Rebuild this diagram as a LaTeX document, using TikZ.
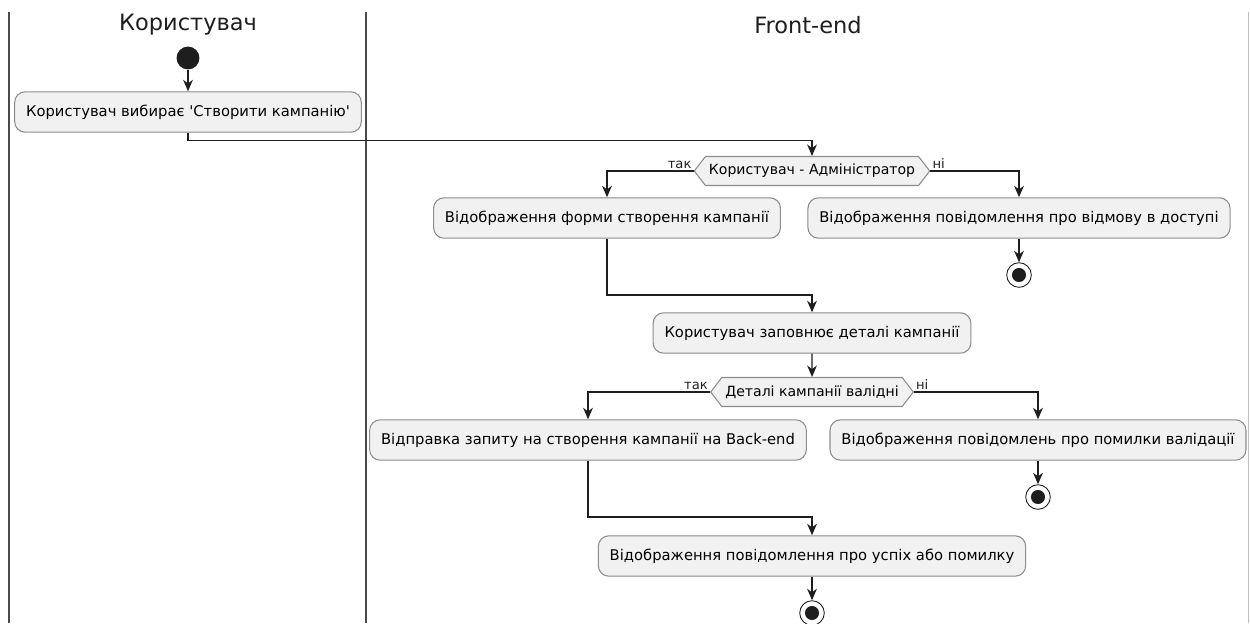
\documentclass[tikz,border=0pt]{standalone}
\usepackage{fontspec}
\newfontfamily\umlfont{DejaVu Sans}
\usetikzlibrary{arrows.meta,shapes.symbols}

\definecolor{boxfill}{HTML}{F1F1F1}
\definecolor{boxline}{HTML}{8C8C8C}
\definecolor{flowline}{HTML}{1E1E1E}
\definecolor{laneline}{HTML}{4A4A4A}

\tikzset{
  lanetitle/.style={font=\umlfont\fontsize{12.8}{15}\selectfont, text=flowline},
  action/.style={draw=boxline, fill=boxfill, line width=0.6pt, rounded corners=6pt,
    font=\umlfont\fontsize{8.4}{10}\selectfont, inner xsep=6.5pt, minimum height=23pt},
  choice/.style={draw=boxline, fill=boxfill, line width=0.6pt, signal, signal to=west and east,
    signal pointer angle=105, font=\umlfont\fontsize{8}{9.5}\selectfont, inner xsep=2pt, minimum height=16.5pt},
  startdot/.style={circle, fill=flowline, minimum size=13pt, inner sep=0pt},
  stopdot/.style={circle, draw=flowline, fill=white, line width=0.5pt, minimum size=14pt, inner sep=0pt,
    path picture={\fill[flowline] (path picture bounding box.center) circle (4pt);}},
  flow/.style={draw=flowline, line width=0.8pt, -{Stealth[length=6.5pt, width=5.5pt, inset=2pt]}},
  guard/.style={font=\umlfont\fontsize{7.5}{8.5}\selectfont, inner sep=1pt, text=flowline}
}

\begin{document}
\begin{tikzpicture}[x=0.02cm, y=-0.02cm]
    \useasboundingbox (0,0) rectangle (1250,623);

    % swimlanes
    \draw[laneline, line width=1.2pt] (9,12) -- (9,623);
    \draw[laneline, line width=1.2pt] (366,12) -- (366,623);
    \draw[gray!50, line width=0.5pt] (1248,12) -- (1248,623);
    \node[lanetitle] (laneUser) at (188,25) {Користувач};
    \node[lanetitle] (laneFront) at (808,25) {Front-end};

    % activities
    \node[startdot] (start) at (188,58) {};
    \node[action] (choose) at (188,112) {Користувач вибирає 'Створити кампанію'};
    \node[choice] (isAdmin) at (812,171) {Користувач - Адміністратор};
    \node[action] (showForm) at (607,218) {Відображення форми створення кампанії};
    \node[action] (showDenied) at (1019,218) {Відображення повідомлення про відмову в доступі};
    \node[stopdot] (stopDenied) at (1019,275) {};
    \node[action] (fillIn) at (812,333) {Користувач заповнює деталі кампанії};
    \node[choice] (isValid) at (812,392) {Деталі кампанії валідні};
    \node[action] (sendReq) at (588,440) {Відправка запиту на створення кампанії на Back-end};
    \node[action] (showErrors) at (1038,440) {Відображення повідомлень про помилки валідації};
    \node[stopdot] (stopErrors) at (1038,497) {};
    \node[action] (showResult) at (812,556) {Відображення повідомлення про успіх або помилку};
    \node[stopdot] (stopEnd) at (812,613) {};

    \coordinate (joinForm) at (812,295);
    \coordinate (joinReq) at (812,517);

    % flows
    \draw[flow] (start) -- (choose);
    \draw[flow] (choose.south) -- ++(0,8) -| (isAdmin.north);
    \draw[flow] (isAdmin.west) -| (showForm.north);
    \draw[flow] (isAdmin.east) -| (showDenied.north);
    \node[guard, anchor=south east] at (isAdmin.west) {так};
    \node[guard, anchor=south west] at (isAdmin.east) {ні};
    \draw[flow] (showDenied) -- (stopDenied);
    \draw[flow] (showForm.south) |- (joinForm) -- (fillIn.north);
    \draw[flow] (fillIn) -- (isValid);
    \draw[flow] (isValid.west) -| (sendReq.north);
    \draw[flow] (isValid.east) -| (showErrors.north);
    \node[guard, anchor=south east] at (isValid.west) {так};
    \node[guard, anchor=south west] at (isValid.east) {ні};
    \draw[flow] (showErrors) -- (stopErrors);
    \draw[flow] (sendReq.south) |- (joinReq) -- (showResult.north);
    \draw[flow] (showResult) -- (stopEnd);
\end{tikzpicture}
\end{document}
